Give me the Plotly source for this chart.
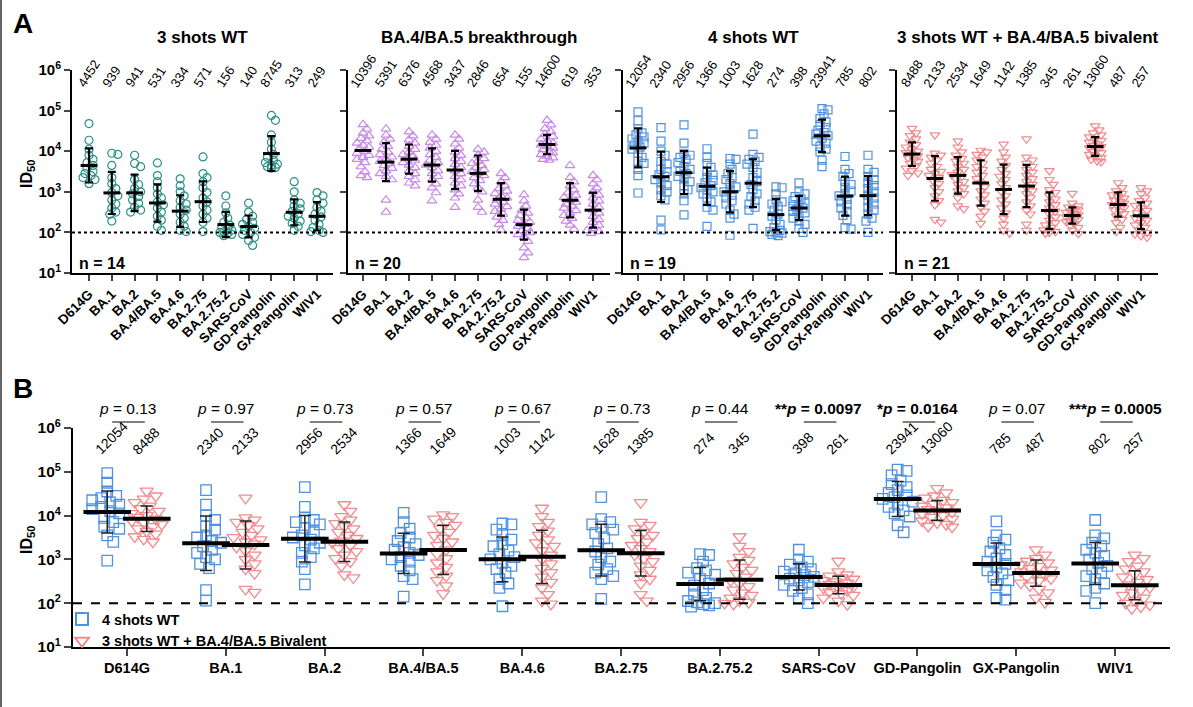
import numpy as np
import plotly.graph_objects as go

W, H = 1193, 707
FONT = "Arial, Liberation Sans, sans-serif"

variants = ['D614G', 'BA.1', 'BA.2', 'BA.4/BA.5', 'BA.4.6', 'BA.2.75', 'BA.2.75.2',
            'SARS-CoV', 'GD-Pangolin', 'GX-Pangolin', 'WIV1']

# individual log10 ID50 values, one list per variant
wt3_log = [
    [4.68, 4.27, 4.05, 3.90, 3.80, 3.72, 3.65, 3.58, 3.50, 3.45, 3.40, 3.35, 3.30, 3.20],
    [3.95, 3.92, 3.65, 3.35, 3.20, 3.08, 2.98, 2.90, 2.80, 2.70, 2.60, 2.50, 2.45, 2.28],
    [3.90, 3.70, 3.62, 3.30, 3.18, 3.08, 3.00, 2.95, 2.88, 2.80, 2.72, 2.62, 2.55, 2.50],
    [3.71, 3.40, 3.25, 3.10, 2.95, 2.85, 2.75, 2.68, 2.60, 2.50, 2.40, 2.30, 2.15, 2.05],
    [3.32, 3.15, 3.00, 2.90, 2.78, 2.70, 2.62, 2.55, 2.45, 2.35, 2.25, 2.15, 2.05, 2.02],
    [3.86, 3.45, 3.35, 3.25, 3.10, 2.98, 2.85, 2.75, 2.65, 2.55, 2.45, 2.35, 2.25, 2.02],
    [2.90, 2.65, 2.48, 2.35, 2.25, 2.18, 2.12, 2.08, 2.05, 2.02, 2.00, 1.98, 1.95, 1.92],
    [2.72, 2.50, 2.40, 2.32, 2.25, 2.20, 2.15, 2.10, 2.05, 2.00, 1.95, 1.88, 1.80, 1.68],
    [4.88, 4.76, 4.40, 4.22, 4.05, 3.92, 3.85, 3.78, 3.72, 3.68, 3.65, 3.62, 3.60, 3.58],
    [3.25, 3.00, 2.80, 2.72, 2.65, 2.58, 2.52, 2.46, 2.40, 2.35, 2.28, 2.22, 2.15, 2.05],
    [2.98, 2.90, 2.80, 2.72, 2.62, 2.52, 2.45, 2.38, 2.30, 2.20, 2.12, 2.05, 2.02, 2.00],
]
bt_log = [
    [4.66, 4.55, 4.45, 4.38, 4.32, 4.26, 4.20, 4.15, 4.10, 4.05, 4.00, 3.95, 3.90, 3.85, 3.80, 3.72, 3.62, 3.50, 3.40, 3.35],
    [4.55, 4.40, 4.30, 4.22, 4.12, 4.05, 3.98, 3.92, 3.86, 3.80, 3.75, 3.70, 3.65, 3.58, 3.52, 3.45, 3.38, 3.30, 2.80, 2.50],
    [4.48, 4.38, 4.28, 4.20, 4.12, 4.05, 3.98, 3.92, 3.88, 3.82, 3.78, 3.72, 3.66, 3.60, 3.52, 3.45, 3.38, 3.30, 3.22, 3.15],
    [4.40, 4.30, 4.22, 4.15, 4.08, 4.00, 3.92, 3.85, 3.78, 3.72, 3.66, 3.60, 3.52, 3.45, 3.38, 3.30, 3.20, 3.10, 2.98, 2.78],
    [4.40, 4.30, 4.18, 4.08, 3.98, 3.90, 3.82, 3.75, 3.68, 3.60, 3.52, 3.45, 3.38, 3.30, 3.22, 3.15, 3.05, 2.95, 2.85, 2.62],
    [4.05, 3.98, 3.90, 3.82, 3.76, 3.70, 3.65, 3.60, 3.55, 3.50, 3.45, 3.40, 3.35, 3.28, 3.20, 3.10, 3.00, 2.80, 2.62, 2.50],
    [3.45, 3.35, 3.25, 3.15, 3.08, 3.02, 2.96, 2.90, 2.85, 2.80, 2.75, 2.70, 2.64, 2.58, 2.52, 2.45, 2.38, 2.30, 2.20, 2.06],
    [2.93, 2.78, 2.65, 2.55, 2.48, 2.42, 2.36, 2.30, 2.25, 2.20, 2.15, 2.10, 2.05, 2.00, 1.95, 1.88, 1.78, 1.62, 1.50, 1.38],
    [4.76, 4.65, 4.56, 4.48, 4.42, 4.36, 4.30, 4.25, 4.20, 4.16, 4.12, 4.08, 4.04, 4.00, 3.96, 3.92, 3.88, 3.84, 3.80, 3.78],
    [3.65, 3.35, 3.25, 3.15, 3.05, 2.98, 2.92, 2.86, 2.80, 2.75, 2.70, 2.65, 2.60, 2.54, 2.48, 2.42, 2.35, 2.28, 2.18, 2.08],
    [3.40, 3.30, 3.20, 3.10, 3.00, 2.92, 2.85, 2.78, 2.70, 2.62, 2.55, 2.48, 2.40, 2.32, 2.25, 2.18, 2.10, 2.05, 2.02, 1.98],
]
wt4_log = [
    [4.97, 4.75, 4.55, 4.45, 4.40, 4.35, 4.30, 4.25, 4.20, 4.15, 4.10, 4.05, 3.95, 3.85, 3.75, 3.70, 3.55, 3.40, 2.97],
    [4.58, 4.25, 4.00, 3.90, 3.75, 3.68, 3.55, 3.50, 3.42, 3.38, 3.30, 3.22, 3.15, 3.05, 3.00, 2.90, 2.80, 2.30, 2.06],
    [4.65, 4.20, 3.95, 3.90, 3.85, 3.80, 3.72, 3.62, 3.55, 3.50, 3.45, 3.38, 3.32, 3.25, 3.15, 3.05, 2.95, 2.78, 2.43],
    [4.06, 3.85, 3.70, 3.60, 3.50, 3.42, 3.35, 3.28, 3.22, 3.15, 3.10, 3.05, 3.00, 2.95, 2.85, 2.75, 2.62, 2.55, 2.15],
    [3.82, 3.80, 3.68, 3.55, 3.45, 3.35, 3.30, 3.20, 3.12, 3.05, 3.00, 2.92, 2.85, 2.78, 2.70, 2.55, 2.45, 2.35, 1.93],
    [4.42, 3.92, 3.85, 3.80, 3.75, 3.68, 3.60, 3.48, 3.35, 3.25, 3.18, 3.05, 2.95, 2.88, 2.78, 2.70, 2.62, 2.55, 2.10],
    [3.12, 3.10, 2.95, 2.80, 2.75, 2.70, 2.65, 2.55, 2.45, 2.40, 2.30, 2.20, 2.12, 2.05, 2.02, 2.00, 1.98, 1.95, 1.92],
    [3.22, 3.00, 2.95, 2.88, 2.82, 2.78, 2.72, 2.68, 2.64, 2.60, 2.56, 2.52, 2.48, 2.42, 2.35, 2.28, 2.20, 2.10, 2.00],
    [5.05, 5.02, 4.92, 4.80, 4.72, 4.65, 4.58, 4.52, 4.46, 4.42, 4.38, 4.32, 4.25, 4.20, 4.12, 4.05, 3.98, 3.78, 3.62],
    [3.87, 3.55, 3.45, 3.38, 3.25, 3.18, 3.10, 3.02, 2.95, 2.90, 2.82, 2.75, 2.68, 2.60, 2.52, 2.42, 2.30, 2.12, 2.08],
    [3.90, 3.55, 3.48, 3.38, 3.30, 3.22, 3.15, 3.08, 3.00, 2.92, 2.85, 2.78, 2.70, 2.62, 2.55, 2.45, 2.35, 2.28, 2.00],
]
biv_log = [
    [4.56, 4.45, 4.38, 4.30, 4.22, 4.16, 4.10, 4.05, 4.00, 3.96, 3.92, 3.88, 3.84, 3.80, 3.75, 3.70, 3.64, 3.58, 3.52, 3.46, 3.40],
    [4.40, 3.95, 3.90, 3.85, 3.78, 3.70, 3.62, 3.55, 3.50, 3.45, 3.40, 3.35, 3.28, 3.20, 3.10, 3.00, 2.90, 2.78, 2.68, 2.32, 2.25],
    [4.25, 4.10, 3.98, 3.90, 3.82, 3.75, 3.70, 3.62, 3.55, 3.48, 3.42, 3.38, 3.32, 3.25, 3.18, 3.10, 3.02, 2.95, 2.85, 2.65, 2.58],
    [4.02, 3.98, 3.92, 3.85, 3.78, 3.70, 3.62, 3.55, 3.48, 3.40, 3.32, 3.22, 3.12, 3.02, 2.92, 2.82, 2.72, 2.62, 2.52, 2.40, 2.22],
    [4.17, 3.98, 3.85, 3.75, 3.65, 3.55, 3.45, 3.38, 3.30, 3.20, 3.10, 3.00, 2.90, 2.80, 2.70, 2.60, 2.48, 2.35, 2.20, 2.05, 1.98],
    [4.30, 3.85, 3.78, 3.70, 3.62, 3.55, 3.48, 3.40, 3.32, 3.25, 3.18, 3.10, 3.02, 2.95, 2.85, 2.75, 2.65, 2.55, 2.45, 2.20, 2.05],
    [3.52, 3.30, 3.18, 3.05, 2.98, 2.90, 2.82, 2.75, 2.68, 2.60, 2.52, 2.45, 2.38, 2.30, 2.24, 2.18, 2.12, 2.06, 2.02, 2.00, 1.98],
    [2.96, 2.72, 2.65, 2.62, 2.58, 2.55, 2.52, 2.49, 2.46, 2.43, 2.40, 2.38, 2.35, 2.32, 2.29, 2.26, 2.22, 2.18, 2.12, 2.05, 1.97],
    [4.62, 4.52, 4.45, 4.40, 4.35, 4.30, 4.26, 4.22, 4.18, 4.14, 4.11, 4.08, 4.04, 4.00, 3.96, 3.92, 3.88, 3.84, 3.80, 3.76, 3.74],
    [3.22, 3.10, 3.02, 2.96, 2.92, 2.88, 2.84, 2.80, 2.76, 2.72, 2.68, 2.64, 2.60, 2.56, 2.52, 2.46, 2.40, 2.32, 2.24, 2.12, 2.02],
    [3.10, 3.02, 2.95, 2.85, 2.78, 2.72, 2.66, 2.60, 2.54, 2.48, 2.42, 2.36, 2.30, 2.24, 2.18, 2.12, 2.06, 2.00, 1.96, 1.92, 1.88],
]

# geometric mean titers printed above each column
wt3_gmt = [4452, 939, 941, 531, 334, 571, 156, 140, 8745, 313, 249]
bt_gmt = [10396, 5391, 6376, 4568, 3437, 2846, 654, 155, 14600, 619, 353]
wt4_gmt = [12054, 2340, 2956, 1366, 1003, 1628, 274, 398, 23941, 785, 802]
biv_gmt = [8488, 2133, 2534, 1649, 1142, 1385, 345, 261, 13060, 487, 257]

# error bar half-length in log10 units (geometric SD)
wt3_sd = [0.42, 0.52, 0.45, 0.46, 0.39, 0.50, 0.31, 0.27, 0.43, 0.32, 0.35]
bt_sd = [0.0, 0.47, 0.36, 0.41, 0.47, 0.44, 0.40, 0.37, 0.24, 0.42, 0.43]
wt4_sd = [0.48, 0.62, 0.53, 0.46, 0.51, 0.59, 0.38, 0.30, 0.40, 0.48, 0.48]
biv_sd = [0.29, 0.55, 0.45, 0.56, 0.61, 0.52, 0.45, 0.20, 0.23, 0.30, 0.33]

p_values = ['0.13', '0.97', '0.73', '0.57', '0.67', '0.73', '0.44', '0.0097', '0.0164', '0.07', '0.0005']
p_stars = ['', '', '', '', '', '', '', '**', '*', '', '***']

TEAL = '#2a9188'
VIOLET = '#c98ae6'
BLUE = '#4f92e0'
PINK = '#f08c8e'


def swarm(vals, ppd, ppc, diam, step, maxw):
    # simple beeswarm: horizontal offsets (category units) so markers overlap less
    vals = np.asarray(vals)
    cands = [0.0]
    k = 1
    while k * step <= maxw:
        cands += [k * step, -k * step]
        k += 1
    placed = []
    offs = np.zeros(len(vals))
    for i in np.argsort(-vals, kind='stable'):
        y = vals[i] * ppd
        best, bestd = 0.0, -1.0
        for c in cands:
            d = min([np.hypot(c - px, y - py) for px, py in placed], default=1e9)
            if d >= diam:
                best = c
                break
            if d > bestd:
                best, bestd = c, d
        offs[i] = best / ppc
        placed.append((best, y))
    return offs


def err(gmt, sd):
    g = np.array(gmt, dtype=float)
    s = np.array(sd)
    return g * (10 ** s - 1), g * (1 - 10 ** -s)


def note(text, x, y, size, xref='paper', xanchor='center', yanchor='middle', angle=0):
    return dict(text=text, x=x, y=y, xref=xref, yref='paper', xanchor=xanchor, yanchor=yanchor,
                textangle=angle, showarrow=False, font=dict(size=size, family=FONT, color='black'))


fig = go.Figure()

# ---------------- Panel A ----------------
# pixel layout of the four small plots: y-axis x, first / last category x, right end
a_px = [(72, 89, 317, 333), (348, 363, 593, 610), (623, 638, 868, 883), (897, 912, 1141, 1158)]
a_top, a_bot = 70, 273
a_sets = [
    ('3 shots WT', wt3_log, wt3_gmt, wt3_sd, 'circle-open', TEAL, 8),
    ('BA.4/BA.5 breakthrough', bt_log, bt_gmt, bt_sd, 'triangle-up-open', VIOLET, 8.5),
    ('4 shots WT', wt4_log, wt4_gmt, wt4_sd, 'square-open', BLUE, 8),
    ('3 shots WT + BA.4/BA.5 bivalent', biv_log, biv_gmt, biv_sd, 'triangle-down-open', PINK, 8.5),
]
ppd_a = (a_bot - a_top) / 5.0
annotations = []
shapes = []

for k, (title, logs, gmt, sd, sym, col, msz) in enumerate(a_sets):
    ax0, c0, c1, ax1 = a_px[k]
    ppc = (c1 - c0) / 10.0
    xr = [(ax0 - c0) / ppc, (ax1 - c0) / ppc]
    xa = 'x' if k == 0 else 'x%d' % (k + 1)
    ya = 'y' if k == 0 else 'y%d' % (k + 1)
    xs, ys = [], []
    for i, v in enumerate(logs):
        off = swarm(v, ppd_a, ppc, 5.5, 2.0, 6.0)
        xs += list(i + off)
        ys += list(10 ** np.array(v))
    fig.add_trace(go.Scatter(x=xs, y=ys, mode='markers', xaxis=xa, yaxis=ya, showlegend=False,
                             marker=dict(symbol=sym, size=msz, color=col, line=dict(width=1.2, color=col)),
                             hoverinfo='skip'))
    up, dn = err(gmt, sd)
    fig.add_trace(go.Scatter(x=list(range(11)), y=gmt, mode='markers', xaxis=xa, yaxis=ya, showlegend=False,
                             marker=dict(symbol='line-ew', size=12, line=dict(width=3, color='black')),
                             error_y=dict(type='data', symmetric=False, array=up, arrayminus=dn,
                                          color='black', thickness=2.2, width=4)))
    dom = [ax0 / W, ax1 / W]
    n = '' if k == 0 else str(k + 1)
    fig.update_layout(**{
        'xaxis' + n: dict(domain=dom, range=xr, tickvals=list(range(11)), ticktext=variants,
                          tickangle=-45, ticks='outside', ticklen=6, tickwidth=2, showline=True,
                          linewidth=2, linecolor='black', showgrid=False, zeroline=False,
                          automargin=False,
                          tickfont=dict(size=13.5, family=FONT, color='black', weight='bold'),
                          anchor=ya),
        'yaxis' + n: dict(domain=[1 - a_bot / H, 1 - a_top / H], type='log', range=[1, 6],
                          tickvals=[10, 100, 1e3, 1e4, 1e5, 1e6],
                          ticktext=['10<sup>%d</sup>' % e for e in range(1, 7)],
                          showticklabels=(k == 0), ticks='outside', ticklen=6, tickwidth=2,
                          showline=True, linewidth=2, linecolor='black', showgrid=False,
                          zeroline=False, automargin=False,
                          tickfont=dict(size=15, family=FONT, color='black', weight='bold'),
                          anchor=xa),
    })
    shapes.append(dict(type='line', xref=xa + ' domain', yref=ya, x0=0, x1=1, y0=100, y1=100,
                       line=dict(color='black', width=2, dash='dot')))
    annotations.append(note('<b>%s</b>' % title, (ax0 + ax1) / 2 / W, 1 - 37 / H, 17))
    annotations.append(note('<b>n = %d</b>' % len(logs[0]), (ax0 + 5) / W, 1 - 263 / H, 16,
                            xanchor='left'))
    for i, g in enumerate(gmt):
        annotations.append(note(str(g), i, 1 - 93 / H, 13, xref=xa, yanchor='bottom', angle=-57))

# ---------------- Panel B ----------------
b_ax0, b_c0, b_c1, b_ax1 = 73, 127, 1115, 1170
b_top, b_bot = 428, 647
ppc_b = (b_c1 - b_c0) / 10.0
ppd_b = (b_bot - b_top) / 5.0
b_sets = [
    ('4 shots WT', wt4_log, wt4_gmt, wt4_sd, 'square-open', BLUE, 10.5, -0.2),
    ('3 shots WT + BA.4/BA.5 Bivalent', biv_log, biv_gmt, biv_sd, 'triangle-down-open', PINK, 11.5, 0.2),
]
for name, logs, gmt, sd, sym, col, msz, shift in b_sets:
    xs, ys = [], []
    for i, v in enumerate(logs):
        off = swarm(v, ppd_b, ppc_b, 8.0, 3.0, 15.0)
        xs += list(i + shift + off)
        ys += list(10 ** np.array(v))
    fig.add_trace(go.Scatter(x=xs, y=ys, mode='markers', xaxis='x5', yaxis='y5', name=name,
                             marker=dict(symbol=sym, size=msz, color=col, line=dict(width=1.3, color=col)),
                             hoverinfo='skip'))
for name, logs, gmt, sd, sym, col, msz, shift in b_sets:
    up, dn = err(gmt, sd)
    fig.add_trace(go.Scatter(x=[i + shift for i in range(11)], y=gmt, mode='markers', xaxis='x5',
                             yaxis='y5', showlegend=False,
                             marker=dict(symbol='line-ew', size=34, line=dict(width=4, color='black')),
                             error_y=dict(type='data', symmetric=False, array=up, arrayminus=dn,
                                          color='#222222', thickness=1.5, width=6)))
    for i, g in enumerate(gmt):
        annotations.append(note(str(g), i + (-0.16 if shift < 0 else 0.19), 1 - 460 / H, 14,
                                xref='x5', yanchor='bottom', angle=-45))

for i, (p, s) in enumerate(zip(p_values, p_stars)):
    txt = '%s<i>p</i> = %s' % (s, p)
    if s:
        txt = '<b>%s</b>' % txt
    annotations.append(note(txt, i, 1 - 408 / H, 15.5, xref='x5'))
    shapes.append(dict(type='line', xref='x5', yref='paper', x0=i - 0.15, x1=i + 0.18,
                       y0=1 - 422 / H, y1=1 - 422 / H, line=dict(color='#555555', width=1.5)))

shapes.append(dict(type='line', xref='x5 domain', yref='y5', x0=0, x1=1, y0=100, y1=100,
                   line=dict(color='black', width=2, dash='dash')))

fig.update_layout(
    xaxis5=dict(domain=[b_ax0 / W, b_ax1 / W], range=[(b_ax0 - b_c0) / ppc_b, (b_ax1 - b_c0) / ppc_b],
                tickvals=list(range(11)), ticktext=variants, tickangle=0, ticks='outside', ticklen=7,
                tickwidth=2, showline=True, linewidth=2, linecolor='black', showgrid=False,
                zeroline=False, automargin=False,
                tickfont=dict(size=14.5, family=FONT, color='black', weight='bold'), anchor='y5'),
    yaxis5=dict(domain=[1 - b_bot / H, 1 - b_top / H], type='log', range=[1, 6],
                tickvals=[10, 100, 1e3, 1e4, 1e5, 1e6],
                ticktext=['10<sup>%d</sup>' % e for e in range(1, 7)],
                ticks='outside', ticklen=7, tickwidth=2, showline=True, linewidth=2,
                linecolor='black', showgrid=False, zeroline=False, automargin=False,
                tickfont=dict(size=15.5, family=FONT, color='black', weight='bold'), anchor='x5'),
)

# y titles and panel letters
for yc in (174, 540):
    annotations.append(note('<b>ID<sub>50</sub></b>', 27 / W, 1 - yc / H, 16, angle=-90))
annotations.append(note('<b>A</b>', 23 / W, 1 - 24 / H, 28))
annotations.append(note('<b>B</b>', 23 / W, 1 - 388 / H, 28))

# page border on the left
shapes.append(dict(type='line', xref='paper', yref='paper', x0=1 / W, x1=1 / W, y0=0, y1=1,
                   line=dict(color='#666666', width=2)))

fig.update_layout(
    width=W, height=H,
    margin=dict(l=0, r=0, t=0, b=0, pad=0, autoexpand=False),
    paper_bgcolor='white', plot_bgcolor='white',
    annotations=annotations, shapes=shapes,
    legend=dict(x=62 / W, y=1 - 603 / H, xanchor='left', yanchor='top', bgcolor='rgba(0,0,0,0)',
                tracegroupgap=0, itemsizing='constant',
                font=dict(size=14.5, family=FONT, color='black', weight='bold')),
    font=dict(family=FONT, color='black'),
)

# drop the default page margin so the figure sits at the window's top-left corner
fig.write_html("out.html", config={'displayModeBar': False},
               post_script="document.body.style.margin='0px';document.body.style.overflow='hidden';")
